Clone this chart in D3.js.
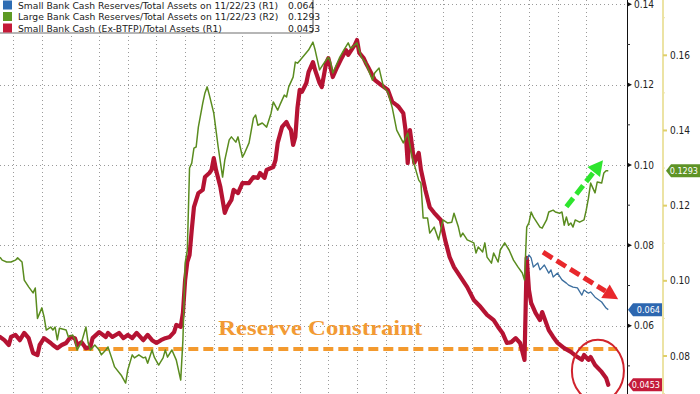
<!DOCTYPE html>
<html>
<head>
<meta charset="utf-8">
<script src="https://cdn.jsdelivr.net/npm/d3@7"></script>
<style>
  html, body { margin: 0; padding: 0; background: #fff; }
  svg { display: block; }
</style>
</head>
<body>
<svg></svg>
<script>
// week index (from late Aug 2018) , value
const smallCashExBtfp = [[0,.0572],[2,.0564],[4,.0552],[5,.0572],[7,.0577],[9,.0564],[11,.0582],[13,.0569],[15,.0532],[17,.0527],[18,.0552],[20,.0569],[23,.0557],[24,.0552],[26,.0544],[28,.0552],[30,.0557],[32,.0572],[34,.0569],[35,.0552],[37,.0559],[39,.0544],[41,.0547],[42,.0569],[45,.0584],[48,.0572],[49,.0582],[51,.0572],[54,.0582],[56,.0569],[58,.0577],[60,.0569],[62,.0582],[65,.0564],[67,.0577],[69,.0564],[71,.0557],[73,.0564],[75,.0569],[77,.0572],[79,.0584],[80,.0602],[82,.0597],[83,.0632],[84,.0714],[85,.0759],[86,.0776],[87,.0838],[88,.0895],[90,.0930],[92,.0938],[93,.0970],[95,.0980],[96,.0988],[97,.1017],[98,.0988],[100,.0945],[102,.0881],[103,.0895],[105,.0913],[106,.0938],[108,.0930],[110,.0955],[113,.0955],[115,.0970],[117,.0968],[118,.0980],[120,.0968],[121,.0988],[124,.0995],[125,.1012],[126,.1055],[128,.1095],[130,.1107],[131,.1095],[132,.1087],[133,.1050],[134,.1070],[135,.1144],[136,.1187],[137,.1182],[139,.1204],[140,.1231],[142,.1256],[143,.1236],[145,.1204],[146,.1194],[148,.1254],[149,.1266],[151,.1219],[153,.1244],[155,.1266],[157,.1286],[158,.1274],[160,.1291],[161,.1299],[162,.1311],[163,.1279],[165,.1266],[166,.1254],[167,.1244],[170,.1212],[173,.1199],[176,.1187],[178,.1157],[180,.1149],[181,.1144],[183,.1129],[184,.1087],[185,.1005],[186,.1087],[188,.1005],[190,.1030],[191,.0988],[193,.0938],[195,.0895],[197,.0881],[200,.0863],[202,.0813],[204,.0771],[206,.0746],[209,.0721],[212,.0696],[215,.0664],[218,.0647],[221,.0627],[224,.0614],[226,.0597],[228,.0582],[230,.0557],[232,.0559],[234,.0569],[236,.0557],[238,.0515],[239,.0769],[240,.0689],[241,.0657],[243,.0632],[245,.0614],[246,.0634],[249,.0589],[251,.0572],[253,.0557],[256,.0544],[259,.0535],[262,.0522],[264,.0515],[265,.0527],[267,.0515],[268,.0522],[270,.0502],[273,.0485],[275,.0470],[276,.0453]];

const largeCashReserves = [[0,.1063],[1,.1055],[3,.1050],[5,.1050],[7,.1055],[8,.1061],[10,.1050],[11,.1002],[13,.0984],[15,.0968],[16,.0981],[17,.0900],[19,.0928],[20,.0904],[21,.0869],[23,.0877],[24,.0869],[25,.0877],[26,.0843],[27,.0874],[30,.0869],[31,.0851],[33,.0856],[34,.0843],[35,.0816],[37,.0837],[39,.0877],[40,.0835],[41,.0816],[43,.0829],[45,.0816],[46,.0803],[48,.0816],[49,.0824],[51,.0789],[52,.0771],[55,.0749],[57,.0728],[58,.0763],[60,.0803],[61,.0795],[63,.0803],[65,.0795],[66,.0797],[67,.0781],[69,.0816],[70,.0797],[72,.0776],[74,.0795],[75,.0816],[76,.0797],[78,.0816],[80,.0789],[82,.0736],[83,.0843],[84,.1047],[85,.1082],[86,.1300],[87,.1313],[88,.1353],[89,.1356],[90,.1409],[92,.1473],[93,.1500],[94,.1516],[95,.1494],[97,.1446],[99,.1356],[101,.1276],[102,.1321],[104,.1375],[105,.1383],[107,.1369],[108,.1383],[109,.1356],[110,.1329],[111,.1340],[113,.1367],[115,.1433],[116,.1441],[117,.1414],[119,.1420],[121,.1409],[123,.1446],[124,.1476],[126,.1454],[127,.1468],[129,.1494],[130,.1489],[131,.1516],[133,.1542],[134,.1582],[135,.1579],[137,.1593],[140,.1614],[142,.1635],[143,.1614],[145,.1561],[147,.1579],[149,.1595],[150,.1582],[151,.1553],[154,.1593],[156,.1614],[158,.1633],[159,.1619],[160,.1622],[162,.1633],[164,.1595],[166,.1579],[169,.1534],[170,.1553],[172,.1566],[174,.1516],[176,.1502],[178,.1460],[180,.1401],[183,.1367],[185,.1393],[187,.1329],[190,.1268],[191,.1260],[192,.1167],[194,.1167],[195,.1127],[197,.1143],[199,.1109],[200,.1135],[201,.1162],[203,.1154],[205,.1156],[206,.1180],[208,.1143],[209,.1117],[210,.1127],[212,.1109],[215,.1101],[216,.1074],[217,.1090],[219,.1077],[220,.1101],[221,.1063],[223,.1047],[224,.1074],[226,.1050],[227,.1082],[229,.1101],[231,.1082],[233,.1055],[235,.1037],[237,.1021],[238,.1002],[239,.1143],[240,.1154],[241,.1183],[242,.1170],[245,.1143],[246,.1140],[248,.1162],[249,.1183],[251,.1188],[252,.1183],[254,.1180],[255,.1183],[256,.1148],[257,.1170],[258,.1148],[259,.1154],[260,.1143],[261,.1162],[263,.1156],[265,.1162],[266,.1188],[267,.1220],[268,.1260],[270,.1234],[271,.1263],[273,.1260],[274,.1287],[275,.1293],[276,.1293]];

const smallCashReserves = [[239,.0764],[240,.0776],[241,.0769],[242,.0746],[244,.0756],[245,.0739],[247,.0751],[249,.0731],[250,.0739],[251,.0721],[253,.0731],[255,.0714],[257,.0706],[258,.0701],[260,.0696],[262,.0694],[264,.0676],[265,.0689],[267,.0681],[268,.0684],[270,.0671],[273,.0659],[275,.0644],[276,.0640]];

const legendItems = [
  { label: 'Small Bank Cash Reserves/Total Assets on 11/22/23 (R1)', value: '0.064', color: '#2f6db3' },
  { label: 'Large Bank Cash Reserves/Total Assets on 11/22/23 (R2)', value: '0.1293', color: '#5e9a24' },
  { label: 'Small Bank Cash (Ex-BTFP)/Total Assets (R1)', value: '0.0453', color: '#c41a38' }];

const r1Ticks = [0.06, 0.08, 0.10, 0.12, 0.14];
const r1Minor = [0.05, 0.07, 0.09, 0.11, 0.13];
const r2Ticks = [0.08, 0.10, 0.12, 0.14, 0.16];
const r2Minor = [0.07, 0.09, 0.11, 0.13, 0.15, 0.17];
const quarterWeeks = d3.range(6, 267, 13);
const reserveLevel = 0.0542;

const WIDTH = 700;
const HEIGHT = 394;
const R1_X = 627;
const R2_X = 663;

const svg = d3.select('svg').
attr('width', WIDTH).
attr('height', HEIGHT).
attr('font-family', '"DejaVu Sans Condensed", "DejaVu Sans", sans-serif');

svg.append('rect').attr('width', WIDTH).attr('height', HEIGHT).attr('fill', '#fff');

const x = d3.scaleLinear().domain([0, 284.5]).range([0, R1_X]);
const yL = d3.scaleLinear().domain([0.06, 0.14]).range([325.7, 4.3]);
const yR = d3.scaleLinear().domain([0.08, 0.16]).range([356, 55.3]);

/* --GRID-- */
const grid = svg.append('g').attr('stroke', '#9a9a9a').attr('stroke-width', 1).attr('stroke-dasharray', '1,3');
grid.selectAll('.vg').data(quarterWeeks).enter().append('line').
attr('x1', d => Math.round(x(d)) + 0.5).attr('x2', d => Math.round(x(d)) + 0.5).
attr('y1', 0).attr('y2', HEIGHT);
grid.selectAll('.hg').data(r1Ticks).enter().append('line').
attr('x1', 0).attr('x2', R1_X).
attr('y1', d => Math.round(yL(d)) + 0.5).attr('y2', d => Math.round(yL(d)) + 0.5);

/* --RESERVE CONSTRAINT-- */
svg.append('line').
attr('x1', x(31)).attr('x2', x(280)).
attr('y1', yL(reserveLevel)).attr('y2', yL(reserveLevel)).
attr('stroke', '#f39a2e').attr('stroke-width', 4).attr('stroke-dasharray', '10,5');

svg.append('text').
attr('x', x(99)).attr('y', yL(0.0577)).
attr('font-family', '"Liberation Serif", "DejaVu Serif", serif').
attr('font-weight', 'bold').attr('font-size', 22).
attr('textLength', 204).attr('lengthAdjust', 'spacingAndGlyphs').
attr('fill', '#f29a34').
text('Reserve Constraint');

/* --LINES-- */
const lineL = d3.line().x(d => x(d[0])).y(d => yL(d[1]));
const lineR = d3.line().x(d => x(d[0])).y(d => yR(d[1]));

svg.append('path').datum(smallCashExBtfp).
attr('d', lineL).attr('fill', 'none').
attr('stroke', '#b51333').attr('stroke-width', 4.2).
attr('stroke-linejoin', 'round').attr('stroke-linecap', 'round');

svg.append('path').datum(largeCashReserves).
attr('d', lineR).attr('fill', 'none').
attr('stroke', '#5a8c1f').attr('stroke-width', 1.5).attr('stroke-linejoin', 'round');

svg.append('path').datum(smallCashReserves).
attr('d', lineL).attr('fill', 'none').
attr('stroke', '#3b6e9e').attr('stroke-width', 1.3).attr('stroke-linejoin', 'round');

/* --ANNOTATIONS-- */
function dashedArrow(x1, y1, x2, y2, color) {
  const dx = x2 - x1, dy = y2 - y1;
  const len = Math.hypot(dx, dy);
  const ux = dx / len, uy = dy / len;
  const head = 15, half = 8;
  const bx = x2 - ux * head, by = y2 - uy * head;
  svg.append('line').
  attr('x1', x1).attr('y1', y1).attr('x2', bx).attr('y2', by).
  attr('stroke', color).attr('stroke-width', 5).attr('stroke-dasharray', '11,5');
  svg.append('path').
  attr('d', `M${x2},${y2}L${bx - uy * half},${by + ux * half}L${bx + uy * half},${by - ux * half}Z`).
  attr('fill', color);
}
dashedArrow(x(257), yL(0.0896), x(273.6), yL(0.1012), '#2ee52e');
dashedArrow(x(246.4), yL(0.0783), x(280.5), yL(0.0666), '#e8282c');

svg.append('ellipse').
attr('cx', x(271.3)).attr('cy', yL(0.0488)).
attr('rx', 26).attr('ry', 31).
attr('fill', 'none').attr('stroke', '#d0232d').attr('stroke-width', 2);

/* --LEGEND-- */
const legendG = svg.append('g').attr('font-family', '"DejaVu Sans", sans-serif');
legendG.append('rect').
attr('x', -3).attr('y', -3).attr('width', 316).attr('height', 36).attr('rx', 3).
attr('fill', '#fff').attr('stroke', '#6e6e6e').attr('stroke-width', 1.2);
const rows = legendG.selectAll('g.row').data(legendItems).enter().append('g').
attr('transform', (d, i) => `translate(0, ${5 + i * 11.5})`);
rows.append('rect').attr('x', 3).attr('y', -4.5).attr('width', 9).attr('height', 9).attr('fill', d => d.color);
rows.append('text').attr('x', 18).attr('y', 3.5).attr('font-size', 9.2).attr('fill', '#222').text(d => d.label);
rows.append('text').attr('x', 288).attr('y', 3.5).attr('font-size', 9.2).attr('fill', '#222').text(d => d.value);

/* --RIGHT AXES-- */
svg.append('line').attr('x1', R1_X + 0.5).attr('x2', R1_X + 0.5).attr('y1', 0).attr('y2', HEIGHT).
attr('stroke', '#111').attr('stroke-width', 1);
svg.append('line').attr('x1', R2_X).attr('x2', R2_X).attr('y1', 0).attr('y2', HEIGHT).
attr('stroke', '#ece3a4').attr('stroke-width', 2);

const r1 = svg.append('g');
r1.selectAll('path').data(r1Ticks).enter().append('path').
attr('d', d => `M${R1_X},${yL(d) - 2.5}L${R1_X + 5},${yL(d)}L${R1_X},${yL(d) + 2.5}Z`).
attr('fill', '#111');
r1.selectAll('line').data(r1Minor).enter().append('line').
attr('x1', R1_X).attr('x2', R1_X + 3).attr('y1', d => yL(d)).attr('y2', d => yL(d)).
attr('stroke', '#333');
r1.selectAll('text').data(r1Ticks).enter().append('text').
attr('x', R1_X + 7).attr('y', d => yL(d) + 3.5).attr('font-size', 10).attr('fill', '#222').
text(d => d3.format('.2f')(d));

const r2 = svg.append('g');
r2.selectAll('line.maj').data(r2Ticks).enter().append('line').
attr('x1', R2_X).attr('x2', R2_X + 4).attr('y1', d => yR(d)).attr('y2', d => yR(d)).
attr('stroke', '#e0cf6a').attr('stroke-width', 2);
r2.selectAll('line.min').data(r2Minor).enter().append('line').
attr('x1', R2_X).attr('x2', R2_X + 2).attr('y1', d => yR(d)).attr('y2', d => yR(d)).
attr('stroke', '#ece3a4');
r2.selectAll('text').data(r2Ticks).enter().append('text').
attr('x', R2_X + 7).attr('y', d => yR(d) + 3.5).attr('font-size', 10).attr('fill', '#222').
text(d => d3.format('.2f')(d));

/* --VALUE TAGS-- */
function valueTag(x0, x1, cy, color, label) {
  const h = 6.5;
  svg.append('path').
  attr('d', `M${x0},${cy}L${x0 + 5},${cy - h}L${x1},${cy - h}L${x1},${cy + h}L${x0 + 5},${cy + h}Z`).
  attr('fill', color);
  svg.append('text').attr('x', x1 - 2).attr('y', cy + 3.3).attr('text-anchor', 'end').
  attr('font-size', 9).attr('fill', '#fff').text(label);
}
valueTag(R2_X + 3, WIDTH, yR(0.1293), '#5e9326', '0.1293');
valueTag(R1_X + 1, R2_X - 1, yL(0.064), '#2d67b0', '0.064');
valueTag(R1_X + 1, R2_X - 1, yL(0.0453), '#c41a3a', '0.0453');
</script>
</body>
</html>
